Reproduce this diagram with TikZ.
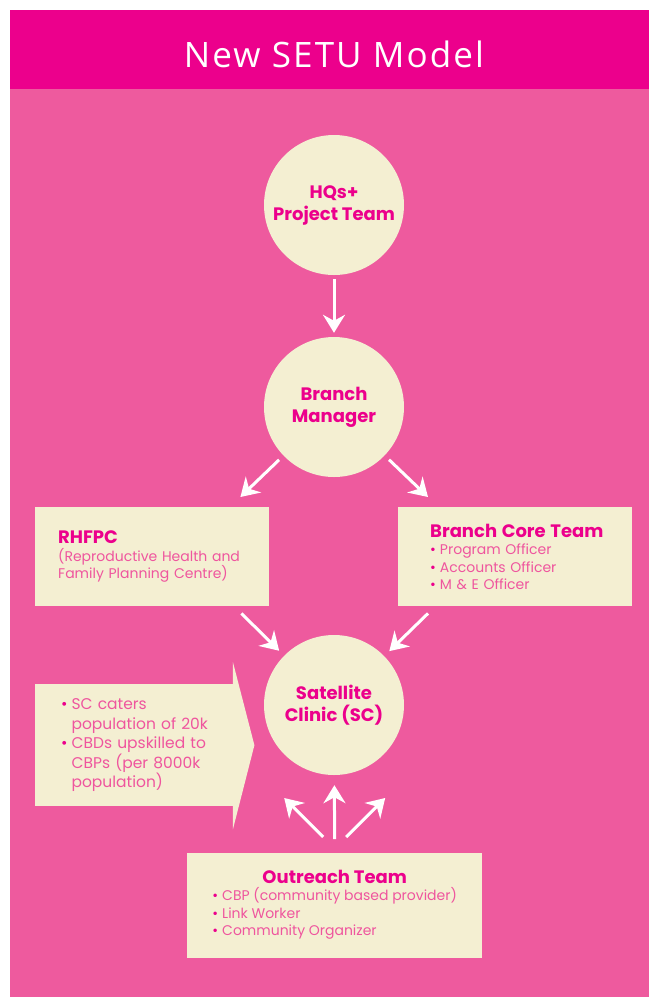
\documentclass[tikz,border=0pt]{standalone}
\usepackage{fontspec}
\setmainfont{Poppins}
\newfontfamily\titlefont[LetterSpace=6]{Open Sans}
\usetikzlibrary{arrows.meta,calc}

\definecolor{setuhead}{HTML}{EC008C}
\definecolor{setubg}{HTML}{EE5A9E}
\definecolor{setucream}{HTML}{F4EFD2}
\definecolor{setutext}{HTML}{EF559E}

\newcommand{\dotitem}{\textcolor{setuhead}{\textbullet}\hspace{4pt}}
\newcommand{\dotgap}{\phantom{\textbullet}\hspace{4pt}}

\tikzset{
	disc/.style={circle, fill=setucream, minimum size=140pt, inner sep=0pt, align=center, text=setuhead, font=\fontsize{18}{22}\selectfont\bfseries},
	panel/.style={rectangle, fill=setucream, inner xsep=0pt, inner ysep=0pt, align=left, text=setutext, font=\fontsize{14}{17.5}\selectfont},
	flow/.style={draw=white, line width=3pt, -{Stealth[length=18pt,width=22pt,inset=6pt]}},
}
\newcommand{\headline}[1]{{\fontsize{18}{22}\selectfont\bfseries\color{setuhead}#1}}

\begin{document}
\begin{tikzpicture}[x=1pt, y=-1pt]
				\useasboundingbox (0,0) rectangle (649,997);
				\fill[white] (0,0) rectangle (649,997);
				\fill[setubg] (10,10) rectangle (649,997);
				\fill[setuhead] (10,10) rectangle (649,89);
				\node[text=white, font=\titlefont\fontsize{35}{36}\selectfont] (title) at (334,54) {New SETU Model};
				
				% circles
				\node[disc] (hq) at (334,205) {HQs+\\Project Team};
				\node[disc] (bm) at (334,407) {Branch\\Manager};
				\node[disc] (sc) at (334,705) {Satellite\\Clinic (SC)};
				
				% side boxes
				\node[panel, anchor=north west, minimum height=99pt, text width=234pt] (rh) at (35,507)
					{\leftskip=23pt\headline{RHFPC}\\(Reproductive Health and\\Family Planning Centre)\par};
				\node[panel, anchor=north west, minimum height=99pt, text width=234pt] (bc) at (398,507)
					{\leftskip=32pt\headline{Branch Core Team}\\\dotitem Program Officer\\\dotitem Accounts Officer\\\dotitem M \& E Officer\par};
				
				% note with arrow head
				\node[panel, anchor=north west, minimum height=122pt, text width=198pt, font=\fontsize{15.5}{19.5}\selectfont] (scnote) at (35,684)
					{\leftskip=26pt\dotitem SC caters\\\dotgap population of 20k\\\dotitem CBDs upskilled to\\\dotgap CBPs (per 8000k\\\dotgap population)\par};
				\fill[setucream] ($(scnote.north east)+(-0.5,-22)$) -- ($(scnote.east)+(21,0)$) -- ($(scnote.south east)+(-0.5,23)$) -- cycle;
				
				\node[panel, anchor=north west, minimum width=295pt, minimum height=105pt, align=center] (or) at (187,853)
					{\headline{Outreach Team}\\
					\begin{tabular}[t]{@{}l@{}}\dotitem CBP (community based provider)\\\dotitem Link Worker\\\dotitem Community Organizer\end{tabular}};
				
				% arrows
				\coordinate (rhtip) at ($(rh.north east)+(-29,-10)$);
				\coordinate (bctip) at ($(bc.north west)+(30,-10)$);
				\coordinate (rhout) at ($(rh.south east)+(-28,7)$);
				\coordinate (bcout) at ($(bc.south west)+(30,7)$);
				\draw[flow, shorten <=4pt, shorten >=4pt] (hq) -- (bm);
				\draw[flow, shorten <=6pt] (bm) -- (rhtip);
				\draw[flow, shorten <=6pt] (bm) -- (bctip);
				\draw[flow, shorten >=7pt] (rhout) -- (sc);
				\draw[flow, shorten >=7pt] (bcout) -- (sc);
				\draw[flow, shorten <=14pt, shorten >=10pt] (or.north) -- (sc);
				\draw[flow] ($(or.north)+(-11.5,-16)$) -- ++(-39,-39);
				\draw[flow] ($(or.north)+(11.5,-16)$) -- ++(39,-39);
\end{tikzpicture}
\end{document}
